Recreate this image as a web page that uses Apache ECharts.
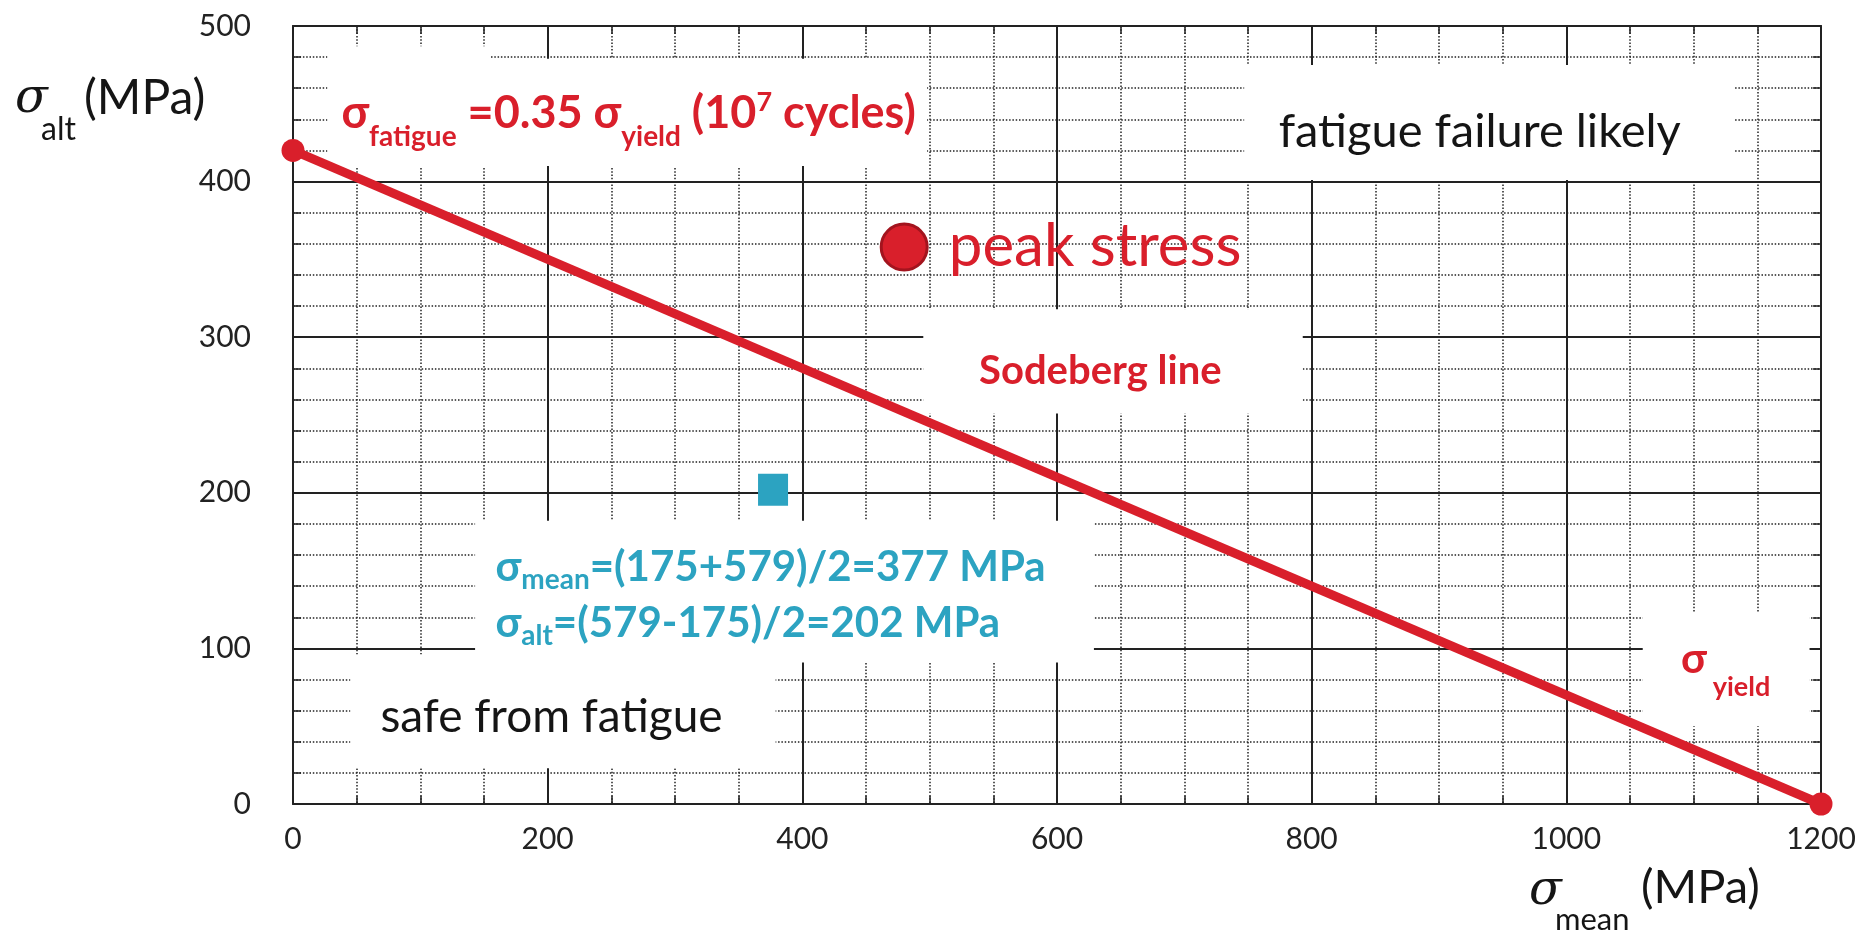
<!DOCTYPE html>
<html>
<head>
<meta charset="utf-8">
<script src="https://cdn.jsdelivr.net/npm/echarts@6/dist/echarts.min.js"></script>
<style>
  html, body { margin: 0; padding: 0; background: #fff; }
  #chart { width: 1875px; height: 931px; }
</style>
</head>
<body>
<div id="chart"></div>
<script>
// Sodeberg line end points: sigma_mean / sigma_alt (MPa)
const sodebergMean = [0, 1200];
const sodebergAlt = [420, 0];
// peak stress point
const peakMean = [480];
const peakAlt = [358];
// operating point (mean, alternating)
const workMean = [377];
const workAlt = [202];

const xRange = [0, 1200];
const yRange = [0, 500];

const RED = '#d91f2b';
const CYAN = '#2ca3c1';
const INK = '#151515';
const FONT = 'Lato, "Noto Sans", sans-serif';
const SERIF = '"DejaVu Serif", "Liberation Serif", serif';

// white boxes behind the annotations (data units: x1, y1, x2, y2)
const boxes = [
  [27, 479, 498, 410],
  [27, 487, 155, 470],
  [747, 475, 1132, 401],
  [495, 318, 793, 251],
  [143, 182, 629, 91],
  [45, 96, 379, 23],
  [1060, 123, 1191, 50]
];

const chart = echarts.init(document.getElementById('chart'));

const gridLine = { color: '#222', width: 2 };
const dotLine = { color: '#222', width: 1.5, type: [1.5, 1.8] };

function valueAxis(range, interval, minorSplit, pos, main) {
  return {
    type: 'value',
    position: pos,
    min: range[0],
    max: range[1],
    interval: interval,
    axisLine: { show: true, onZero: false, lineStyle: { color: '#222', width: 2 } },
    axisTick: { show: true, inside: true, length: 8, lineStyle: { color: '#222', width: 1.5 } },
    minorTick: { show: true, splitNumber: minorSplit, length: 8, lineStyle: { color: '#222', width: 1.5 } },
    axisLabel: {
      show: main, fontSize: 30, color: '#222', fontFamily: FONT,
      margin: pos === 'left' ? 42 : 20,
      formatter: v => String(v)
    },
    splitLine: { show: main, lineStyle: gridLine },
    minorSplitLine: { show: main, lineStyle: dotLine }
  };
}

chart.setOption({
  animation: false,
  backgroundColor: '#fff',
  grid: { left: 293, top: 26, width: 1528, height: 778 },
  xAxis: [
    valueAxis(xRange, 200, 4, 'bottom', true),
    valueAxis(xRange, 200, 4, 'top', false)
  ],
  yAxis: [
    valueAxis(yRange, 100, 5, 'left', true),
    valueAxis(yRange, 100, 5, 'right', false)
  ],
  series: [
    {
      name: 'boxes',
      type: 'line',
      data: [],
      z: 1,
      silent: true,
      markArea: {
        silent: true,
        itemStyle: { color: '#fff', opacity: 1, borderWidth: 0 },
        data: boxes.map(b => [{ coord: [b[0], b[1]] }, { coord: [b[2], b[3]] }])
      }
    },
    {
      name: 'Sodeberg line',
      type: 'line',
      z: 5,
      data: sodebergMean.map((x, i) => [x, sodebergAlt[i]]),
      symbol: 'circle',
      symbolSize: 23,
      lineStyle: { color: RED, width: 9 },
      itemStyle: { color: RED }
    },
    {
      name: 'peak stress',
      type: 'scatter',
      z: 6,
      data: peakMean.map((x, i) => [x, peakAlt[i]]),
      symbolSize: 46,
      itemStyle: { color: RED, borderColor: '#a3141e', borderWidth: 3, opacity: 1 }
    },
    {
      name: 'operating point',
      type: 'scatter',
      z: 6,
      data: workMean.map((x, i) => [x, workAlt[i]]),
      symbol: 'rect',
      symbolSize: [30, 32],
      itemStyle: { color: CYAN, opacity: 1 }
    }
  ]
});

const px = (x, y) => chart.convertToPixel({ gridIndex: 0 }, [x, y]);

function txt(p, text, style) {
  return {
    type: 'text', x: p[0], y: p[1], z: 20,
    style: Object.assign({ text: text, fontFamily: FONT, align: 'left', verticalAlign: 'middle' }, style)
  };
}

const sub = (size, shift, weight) => ({ fontSize: size, fontWeight: weight, fontFamily: FONT, padding: [shift * 2, 0, 0, 0] });
const sup = (size, shift, weight) => ({ fontSize: size, fontWeight: weight, fontFamily: FONT, padding: [0, 0, shift * 2, 0] });

chart.setOption({
  graphic: [
    // sigma fatigue label
    txt(px(38, 444), '{m|σ}{sb|fatigue}{m| =0.35 σ}{sb|yield}{m| (10}{sp|7}{m| cycles)}', {
      fill: RED,
      rich: {
        m: { fontSize: 45, fontWeight: 'bold', fontFamily: FONT },
        sb: sub(28, 24, 'bold'),
        sp: sup(27, 11, 'bold')
      }
    }),
    txt(px(932, 432), 'fatigue failure likely', { fill: INK, fontSize: 47, align: 'center' }),
    txt(px(515, 358), 'peak stress', { fill: RED, fontSize: 60 }),
    txt(px(634, 278), 'Sodeberg line', { fill: RED, fontSize: 40, fontWeight: 'bold', align: 'center' }),
    txt(px(159, 152), '{m|σ}{sb|mean}{m|=(175+579)/2=377 MPa}', {
      fill: CYAN,
      rich: { m: { fontSize: 42, fontWeight: 'bold', fontFamily: FONT }, sb: sub(28, 12, 'bold') }
    }),
    txt(px(159, 116), '{m|σ}{sb|alt}{m|=(579-175)/2=202 MPa}', {
      fill: CYAN,
      rich: { m: { fontSize: 42, fontWeight: 'bold', fontFamily: FONT }, sb: sub(28, 12, 'bold') }
    }),
    txt(px(203, 56), 'safe from fatigue', { fill: INK, fontSize: 46, align: 'center' }),
    txt(px(1090, 93), 'σ', { fill: RED, fontSize: 42, fontWeight: 'bold' }),
    txt(px(1115, 75), 'yield', { fill: RED, fontSize: 27, fontWeight: 'bold' }),
    // axis names
    txt([15, 100], 'σ', { fill: INK, fontSize: 48, fontStyle: 'italic', fontFamily: SERIF }),
    txt([41, 130], 'alt', { fill: INK, fontSize: 32 }),
    txt([84, 99], '(MPa)', { fill: INK, fontSize: 48 }),
    txt([1529, 892], 'σ', { fill: INK, fontSize: 48, fontStyle: 'italic', fontFamily: SERIF }),
    txt([1555, 920], 'mean', { fill: INK, fontSize: 31 }),
    txt([1641, 888], '(MPa)', { fill: INK, fontSize: 47 })
  ]
});
</script>
</body>
</html>
